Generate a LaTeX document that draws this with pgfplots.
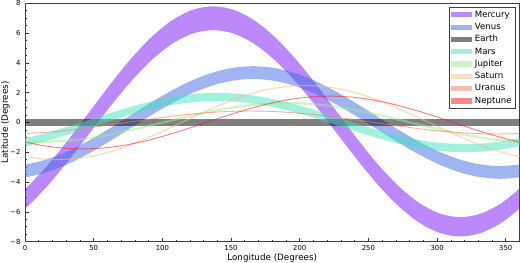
\documentclass[border=0pt]{standalone}
\usepackage{pgfplots}
\pgfplotsset{compat=1.18}
\usepgfplotslibrary{fillbetween}
\usepackage{fontspec}
\setmainfont{DejaVu Sans}
\definecolor{cMer}{RGB}{120,20,245}
\definecolor{cVen}{RGB}{65,105,230}
\definecolor{cEar}{RGB}{0,0,0}
\definecolor{cMar}{RGB}{70,225,190}
\definecolor{cJup}{RGB}{155,235,145}
\definecolor{cSat}{RGB}{235,195,135}
\definecolor{cUra}{RGB}{245,125,85}
\definecolor{cNep}{RGB}{235,25,25}
\pgfplotsset{patch/.style={legend image code/.code={\path[draw=none, fill=#1, fill opacity=0.5] (0bp,-2.6bp) rectangle (21bp,2.6bp);}}}
\begin{document}
\begin{tikzpicture}
\begin{axis}[
 scale only axis, width=494.5bp, height=238.4bp,
 xmin=0, xmax=360, ymin=-8, ymax=8,
 xtick={0,50,...,350}, ytick={-8,-6,...,8},
 yticklabels={−8,−6,−4,−2,0,2,4,6,8},
 minor x tick num=4, minor y tick num=3,
 tick pos=left, tick align=inside,
 major tick length=3.5bp, minor tick length=2bp,
 every tick/.style={black!80, line width=0.6bp},
 axis line style={black!75, line width=0.8bp},
 /pgf/number format/assume math mode=true,
 tick label style={font=\fontsize{6.9}{8}\selectfont},
 xticklabel style={anchor=base, yshift=-9bp},
 yticklabel style={anchor=east, xshift=-1.1bp},
 xlabel={Longitude (Degrees)}, ylabel={Latitude (Degrees)},
 label style={font=\fontsize{8.8}{10}\selectfont},
 xlabel style={at={(axis description cs:0.5,-0.0789)}, anchor=base},
 ylabel style={at={(axis description cs:-0.0344,0.5)}, anchor=base},
 legend style={at={(axis description cs:0.9929,0.9845)}, anchor=north east,
   draw=black!75, line width=0.8bp, fill=white, inner xsep=2.5bp, inner ysep=2bp,
   row sep=1.3bp, column sep=1bp, font=\fontsize{8.6}{10}\selectfont,
   nodes={inner sep=1.5bp, text height=6.3bp, text depth=1.7bp}},
 legend cell align=left,
]
\addlegendimage{patch=cMer}\addlegendentry{Mercury}
\addlegendimage{patch=cVen}\addlegendentry{Venus}
\addlegendimage{patch=cEar}\addlegendentry{Earth}
\addlegendimage{patch=cMar}\addlegendentry{Mars}
\addlegendimage{patch=cJup}\addlegendentry{Jupiter}
\addlegendimage{patch=cSat}\addlegendentry{Saturn}
\addlegendimage{patch=cUra}\addlegendentry{Uranus}
\addlegendimage{patch=cNep}\addlegendentry{Neptune}

% Mercury
\addplot[name path=merU, draw=none, smooth, forget plot] coordinates {(-13,-5.402)(2,-4.278)(17,-2.813)(32,-1.106)(47,0.725)(62,2.556)(77,4.263)(92,5.728)(107,6.852)(122,7.559)(137,7.800)(152,7.559)(167,6.852)(182,5.728)(197,4.263)(212,2.556)(227,0.725)(242,-1.106)(257,-2.813)(272,-4.278)(287,-5.402)(302,-6.109)(317,-6.350)(332,-6.109)(347,-5.402)(362,-4.278)};
\addplot[name path=merL, draw=none, smooth, forget plot] coordinates {(-13,-6.722)(2,-5.622)(17,-4.188)(32,-2.517)(47,-0.725)(62,1.067)(77,2.738)(92,4.172)(107,5.272)(122,5.964)(137,6.200)(152,5.964)(167,5.272)(182,4.172)(197,2.738)(212,1.067)(227,-0.725)(242,-2.517)(257,-4.188)(272,-5.622)(287,-6.722)(302,-7.414)(317,-7.650)(332,-7.414)(347,-6.722)(362,-5.622)};
\addplot[fill=cMer, fill opacity=0.5, draw=none, forget plot] fill between[of=merU and merL];

% Venus
\addplot[name path=venU, draw=none, smooth, forget plot] coordinates {(-14,-2.92)(1,-2.806)(16,-2.471)(31,-1.939)(46,-1.245)(61,-0.437)(76,0.43)(91,1.297)(106,2.105)(121,2.799)(136,3.331)(151,3.666)(166,3.78)(181,3.666)(196,3.331)(211,2.799)(226,2.105)(241,1.297)(256,0.43)(271,-0.437)(286,-1.245)(301,-1.939)(316,-2.471)(331,-2.806)(346,-2.92)(361,-2.806)};
\addplot[name path=venL, draw=none, smooth, forget plot] coordinates {(-14,-3.78)(1,-3.666)(16,-3.331)(31,-2.799)(46,-2.105)(61,-1.297)(76,-0.43)(91,0.437)(106,1.245)(121,1.939)(136,2.471)(151,2.806)(166,2.92)(181,2.806)(196,2.471)(211,1.939)(226,1.245)(241,0.437)(256,-0.43)(271,-1.297)(286,-2.105)(301,-2.799)(316,-3.331)(331,-3.666)(346,-3.78)(361,-3.666)};
\addplot[fill=cVen, fill opacity=0.5, draw=none, forget plot] fill between[of=venU and venL];

% Earth
\addplot[name path=earU, draw=none, forget plot] coordinates {(0,0.26)(360,0.26)};
\addplot[name path=earL, draw=none, forget plot] coordinates {(0,-0.26)(360,-0.26)};
\addplot[fill=cEar, fill opacity=0.5, draw=none, forget plot] fill between[of=earU and earL];

% Mars
\addplot[name path=marU, draw=none, smooth, forget plot] coordinates {(-10,-1.22)(5,-0.946)(20,-0.59)(35,-0.175)(50,0.27)(65,0.715)(80,1.13)(95,1.486)(110,1.76)(125,1.931)(140,1.99)(155,1.931)(170,1.76)(185,1.486)(200,1.13)(215,0.715)(230,0.27)(245,-0.175)(260,-0.59)(275,-0.946)(290,-1.22)(305,-1.391)(320,-1.45)(335,-1.391)(350,-1.22)(365,-0.946)};
\addplot[name path=marL, draw=none, smooth, forget plot] coordinates {(-10,-1.76)(5,-1.486)(20,-1.13)(35,-0.715)(50,-0.27)(65,0.175)(80,0.59)(95,0.946)(110,1.22)(125,1.391)(140,1.45)(155,1.391)(170,1.22)(185,0.946)(200,0.59)(215,0.175)(230,-0.27)(245,-0.715)(260,-1.13)(275,-1.486)(290,-1.76)(305,-1.931)(320,-1.99)(335,-1.931)(350,-1.76)(365,-1.486)};
\addplot[fill=cMar, fill opacity=0.5, draw=none, forget plot] fill between[of=marU and marL];

% Jupiter
\addplot[smooth, draw=cJup, draw opacity=0.5, line width=2.2bp, forget plot] coordinates {(-4.5,-1.256)(10.5,-1.3)(25.5,-1.256)(40.5,-1.126)(55.5,-0.919)(70.5,-0.65)(85.5,-0.336)(100.5,0)(115.5,0.336)(130.5,0.65)(145.5,0.919)(160.5,1.126)(175.5,1.256)(190.5,1.3)(205.5,1.256)(220.5,1.126)(235.5,0.919)(250.5,0.65)(265.5,0.336)(280.5,0)(295.5,-0.336)(310.5,-0.65)(325.5,-0.919)(340.5,-1.126)(355.5,-1.256)(370.5,-1.3)};

% Saturn
\addplot[smooth, draw=cSat, draw opacity=0.55, line width=1.3bp, forget plot] coordinates {(-6,-2.156)(9,-2.405)(24,-2.49)(39,-2.405)(54,-2.156)(69,-1.761)(84,-1.245)(99,-0.644)(114,0)(129,0.644)(144,1.245)(159,1.761)(174,2.156)(189,2.405)(204,2.49)(219,2.405)(234,2.156)(249,1.761)(264,1.245)(279,0.644)(294,0)(309,-0.644)(324,-1.245)(339,-1.761)(354,-2.156)(369,-2.405)};

% Uranus
\addplot[smooth, draw=cUra, draw opacity=0.6, line width=0.9bp, forget plot] coordinates {(-16,-0.77)(-1,-0.744)(14,-0.667)(29,-0.544)(44,-0.385)(59,-0.199)(74,0)(89,0.199)(104,0.385)(119,0.544)(134,0.667)(149,0.744)(164,0.77)(179,0.744)(194,0.667)(209,0.544)(224,0.385)(239,0.199)(254,0)(269,-0.199)(284,-0.385)(299,-0.544)(314,-0.667)(329,-0.744)(344,-0.77)(359,-0.744)(374,-0.667)};

% Neptune
\addplot[smooth, draw=cNep, draw opacity=0.55, line width=0.9bp, forget plot] coordinates {(-3,-1.252)(12,-1.533)(27,-1.710)(42,-1.77)(57,-1.710)(72,-1.533)(87,-1.252)(102,-0.885)(117,-0.458)(132,0)(147,0.458)(162,0.885)(177,1.252)(192,1.533)(207,1.710)(222,1.77)(237,1.710)(252,1.533)(267,1.252)(282,0.885)(297,0.458)(312,0)(327,-0.458)(342,-0.885)(357,-1.252)(372,-1.533)};
\end{axis}
\pgfresetboundingbox
\path[use as bounding box] ([xshift=-25bp,yshift=-21.3bp]current axis.south west) rectangle ([xshift=0.5bp,yshift=3.3bp]current axis.north east);
\end{tikzpicture}
\end{document}
